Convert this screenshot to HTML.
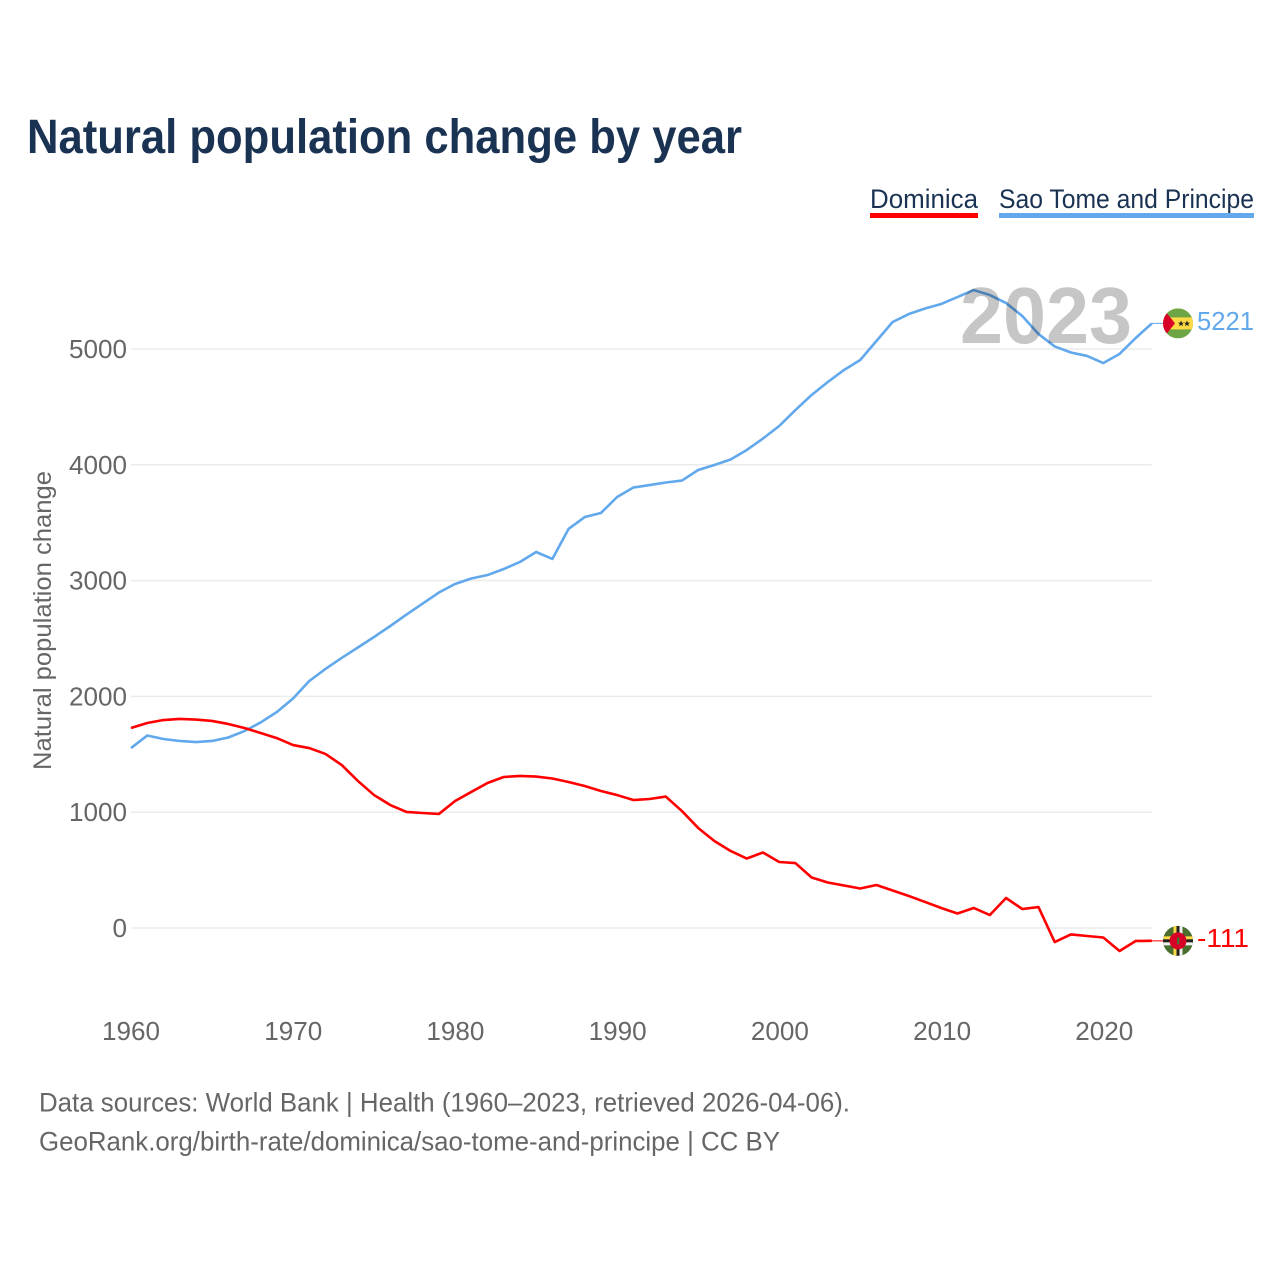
<!DOCTYPE html>
<html lang="en">
<head>
<meta charset="utf-8">
<title>Natural population change by year</title>
<style>
html,body{margin:0;padding:0;background:#fff;}
svg{display:block;font-family:"Liberation Sans",sans-serif;}
</style>
</head>
<body>
<svg id="chart" width="1280" height="1280" viewBox="0 0 1280 1280" xmlns="http://www.w3.org/2000/svg">
  <defs>
    <clipPath id="flag-clip"><circle cx="0" cy="0" r="15"/></clipPath>
  </defs>
  <rect x="0" y="0" width="1280" height="1280" fill="#ffffff"/>
  <text x="27" y="153" font-size="48" font-weight="700" fill="#1a3353" textLength="715" lengthAdjust="spacingAndGlyphs">Natural population change by year</text>

  <g>
    <g>
      <text x="870" y="208" font-size="27" fill="#1a3353" textLength="108" lengthAdjust="spacingAndGlyphs">Dominica</text>
      <rect x="870" y="213" width="108" height="5" fill="#ff0000"/>
    </g>
    <g>
      <text x="999" y="208" font-size="27" fill="#1a3353" textLength="255" lengthAdjust="spacingAndGlyphs">Sao Tome and Principe</text>
      <rect x="999" y="213" width="255" height="5" fill="#62a8ec"/>
    </g>
  </g>

  <g id="grid"></g>
  <g id="yticks"></g>
  <g id="xticks"></g>
  <text transform="translate(51,620.5) rotate(-90)" text-anchor="middle" font-size="25" fill="#666666" textLength="299" lengthAdjust="spacingAndGlyphs">Natural population change</text>

  <g id="series"></g>

  <text x="960" y="343" font-size="80" font-weight="700" fill="#000000" fill-opacity="0.225" textLength="172" lengthAdjust="spacingAndGlyphs">2023</text>

  <g id="flag-stp">
    <g clip-path="url(#flag-clip)">
      <rect x="-15" y="-15" width="30" height="30" fill="#6da544"/>
      <rect x="-15" y="-6" width="30" height="12" fill="#ffda44"/>
      <polygon points="-15,-15 -3,0 -15,15" fill="#d80027"/>
      <polygon points="3,-3 3.8,-0.8 6,-0.8 4.3,0.6 4.9,2.8 3,1.5 1.1,2.8 1.7,0.6 0,-0.8 2.2,-0.8" fill="#222222"/>
      <polygon points="9,-3 9.8,-0.8 12,-0.8 10.3,0.6 10.9,2.8 9,1.5 7.1,2.8 7.7,0.6 6,-0.8 8.2,-0.8" fill="#222222"/>
    </g>
  </g>
  <g id="flag-dma">
    <g clip-path="url(#flag-clip)">
      <rect x="-15" y="-15" width="30" height="30" fill="#496e2d"/>
      <rect x="-15" y="-4.5" width="30" height="3" fill="#ffda44"/>
      <rect x="-15" y="-1.5" width="30" height="3" fill="#222222"/>
      <rect x="-15" y="1.5" width="30" height="3" fill="#f0f0f0"/>
      <rect x="-4.5" y="-15" width="3" height="30" fill="#ffda44"/>
      <rect x="-1.5" y="-15" width="3" height="30" fill="#222222"/>
      <rect x="1.5" y="-15" width="3" height="30" fill="#f0f0f0"/>
      <circle cx="0" cy="0" r="8.5" fill="#d80027"/>
      <rect x="-1" y="-3.5" width="2.4" height="7" fill="#496e2d"/>
    </g>
  </g>
  <text id="value-stp" x="1197" font-size="26" fill="#62a8ec" textLength="57" lengthAdjust="spacingAndGlyphs"></text>
  <text id="value-dma" x="1197" font-size="26" fill="#ff0000" textLength="52" lengthAdjust="spacingAndGlyphs"></text>

  <text x="39" y="1111.5" font-size="27" fill="#666666" textLength="811" lengthAdjust="spacingAndGlyphs">Data sources: World Bank | Health (1960–2023, retrieved 2026-04-06).</text>
  <text x="39" y="1150.5" font-size="27" fill="#666666" textLength="741" lengthAdjust="spacingAndGlyphs">GeoRank.org/birth-rate/dominica/sao-tome-and-principe | CC BY</text>
</svg>
<script>
const startYear = 1960;
const dominicaValues = [1727,1770,1796,1805,1800,1788,1762,1727,1684,1640,1580,1554,1503,1408,1270,1148,1062,1002,993,985,1097,1175,1252,1304,1313,1308,1291,1261,1226,1183,1148,1105,1114,1135,1010,864,751,665,600,652,570,561,436,393,367,341,371,324,276,225,173,125,173,112,259,164,181,-121,-56,-69,-82,-199,-112,-111];
const saoTomeValues = [1554,1662,1632,1615,1606,1615,1645,1701,1775,1865,1982,2133,2237,2332,2422,2513,2608,2707,2802,2897,2971,3018,3048,3100,3161,3247,3187,3446,3549,3584,3722,3804,3825,3847,3864,3955,3998,4046,4128,4227,4335,4473,4603,4715,4819,4905,5069,5233,5302,5350,5389,5449,5509,5466,5397,5285,5130,5022,4970,4940,4879,4957,5095,5221];
const xTickYears = [1960,1970,1980,1990,2000,2010,2020];
const yTickValues = [0,1000,2000,3000,4000,5000];

const NS = 'http://www.w3.org/2000/svg';
const xScale = function (year) { return 131 + (year - 1960) * 16.205; };
const yScale = function (value) { return 928 - value * 0.1158; };
const lastYear = startYear + dominicaValues.length - 1;

const grid = document.getElementById('grid');
const yticks = document.getElementById('yticks');
const xticks = document.getElementById('xticks');
const seriesGroup = document.getElementById('series');

yTickValues.forEach(function (v) {
  const line = document.createElementNS(NS, 'line');
  
  
  line.setAttribute('x1', xScale(1960));
  line.setAttribute('x2', xScale(lastYear));
  line.setAttribute('y1', yScale(v));
  line.setAttribute('y2', yScale(v));
  line.setAttribute('stroke', '#ebebeb');
  line.setAttribute('stroke-width', '1.5');
  grid.appendChild(line);

  const label = document.createElementNS(NS, 'text');
  
  
  label.setAttribute('x', 127);
  label.setAttribute('y', yScale(v) + 9);
  label.setAttribute('text-anchor', 'end');
  label.setAttribute('font-size', '26');
  label.setAttribute('fill', '#666666');
  label.setAttribute('textLength', String(v).length * 14.5);
  label.setAttribute('lengthAdjust', 'spacingAndGlyphs');
  label.textContent = v;
  yticks.appendChild(label);
});

xTickYears.forEach(function (year) {
  const label = document.createElementNS(NS, 'text');
  
  
  label.setAttribute('x', 131 + (year - 1960) * 16.222);
  label.setAttribute('y', 1040);
  label.setAttribute('text-anchor', 'middle');
  label.setAttribute('font-size', '26');
  label.setAttribute('fill', '#666666');
  label.setAttribute('textLength', '58');
  label.setAttribute('lengthAdjust', 'spacingAndGlyphs');
  label.textContent = year;
  xticks.appendChild(label);
});

function pathFor(values) {
  return values.map(function (v, i) {
    return (i ? 'L' : 'M') + xScale(startYear + i).toFixed(2) + ' ' + yScale(v).toFixed(2);
  }).join(' ');
}

const saoLine = document.createElementNS(NS, 'path');


saoLine.setAttribute('d', pathFor(saoTomeValues));
saoLine.setAttribute('fill', 'none');
saoLine.setAttribute('stroke', '#62a8ec');
saoLine.setAttribute('stroke-width', '2.6');
saoLine.setAttribute('stroke-linejoin', 'round');
seriesGroup.appendChild(saoLine);

const domLine = document.createElementNS(NS, 'path');


domLine.setAttribute('d', pathFor(dominicaValues));
domLine.setAttribute('fill', 'none');
domLine.setAttribute('stroke', '#ff0000');
domLine.setAttribute('stroke-width', '2.6');
domLine.setAttribute('stroke-linejoin', 'round');
seriesGroup.appendChild(domLine);

const lastDom = dominicaValues[dominicaValues.length - 1];
const lastSao = saoTomeValues[saoTomeValues.length - 1];

const saoConnector = document.createElementNS(NS, 'line');


saoConnector.setAttribute('x1', xScale(lastYear));
saoConnector.setAttribute('x2', 1178);
saoConnector.setAttribute('y1', yScale(lastSao));
saoConnector.setAttribute('y2', yScale(lastSao));
saoConnector.setAttribute('stroke', '#62a8ec');
saoConnector.setAttribute('stroke-width', '1');
seriesGroup.appendChild(saoConnector);

const domConnector = document.createElementNS(NS, 'line');


domConnector.setAttribute('x1', xScale(lastYear));
domConnector.setAttribute('x2', 1178);
domConnector.setAttribute('y1', yScale(lastDom));
domConnector.setAttribute('y2', yScale(lastDom));
domConnector.setAttribute('stroke', '#ff0000');
domConnector.setAttribute('stroke-width', '1');
seriesGroup.appendChild(domConnector);

document.getElementById('flag-stp').setAttribute('transform', 'translate(1178,' + yScale(lastSao) + ')');
document.getElementById('flag-dma').setAttribute('transform', 'translate(1178,' + yScale(lastDom) + ')');

const valueStp = document.getElementById('value-stp');
valueStp.setAttribute('y', yScale(lastSao) + 6.5);
valueStp.textContent = lastSao;
const valueDma = document.getElementById('value-dma');
valueDma.setAttribute('y', yScale(lastDom) + 6);
valueDma.textContent = lastDom;
</script>
</body>
</html>
